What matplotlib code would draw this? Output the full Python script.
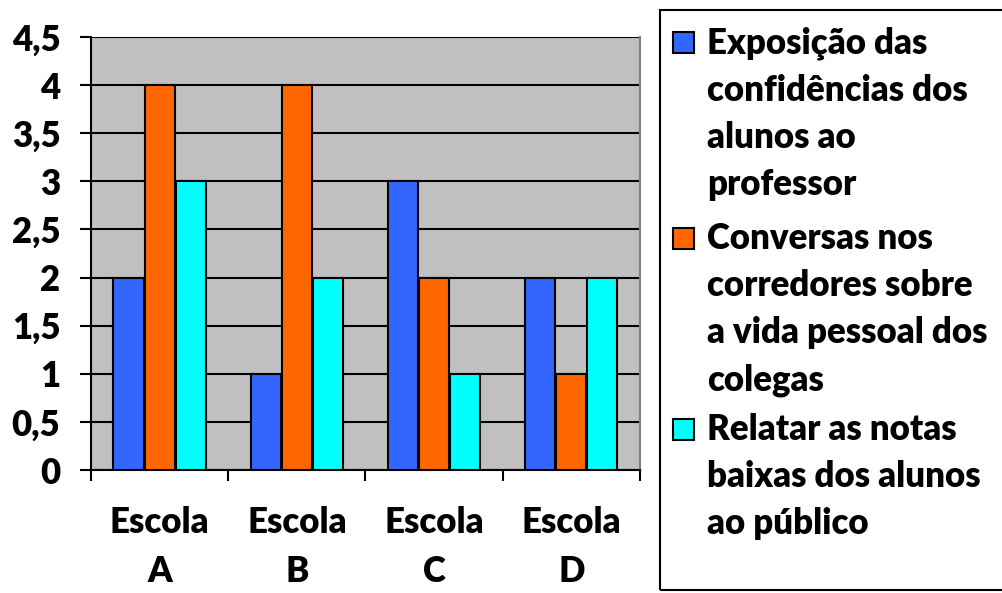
import numpy as np
import matplotlib.pyplot as plt
from matplotlib.patches import Rectangle
from matplotlib.ticker import FuncFormatter

escolas = ["Escola\nA", "Escola\nB", "Escola\nC", "Escola\nD"]
series = [
    "Exposição das\nconfidências dos\nalunos ao\nprofessor",
    "Conversas nos\ncorredores sobre\na vida pessoal dos\ncolegas",
    "Relatar as notas\nbaixas dos alunos\nao público",
]
valores = [
    [2, 1, 3, 2],
    [4, 4, 2, 1],
    [3, 2, 1, 2],
]
cores = ["#3366FF", "#FF6600", "#00FFFF"]

plt.rcParams["font.family"] = ["Lato", "DejaVu Sans"]
plt.rcParams["font.weight"] = "heavy"

fig = plt.figure(figsize=(10.02, 5.93), dpi=100)
ax = fig.add_axes([0.0908, 0.2074, 0.5479, 0.7302])
ax.set_facecolor("#C0C0C0")

x = np.arange(len(escolas))
largura = 0.22
desloc = 0.226
for i, (vals, cor) in enumerate(zip(valores, cores)):
    ax.bar(x + (i - 1) * desloc, vals, largura, color=cor,
           edgecolor="black", linewidth=1.5, zorder=3)

ax.set_xlim(-0.5, 3.5)
ax.set_ylim(0, 4.5)
ax.set_yticks(np.arange(0, 4.51, 0.5))
ax.yaxis.set_major_formatter(FuncFormatter(lambda v, p: f"{v:g}".replace(".", ",")))
ax.grid(axis="y", color="black", linewidth=1.5, zorder=1)
ax.tick_params(axis="y", length=8, width=1.5, pad=14, labelsize=25)

# separadores entre as escolas e rótulos centrados
ax.set_xticks(np.arange(-0.5, 4.0, 1.0))
ax.set_xticklabels([])
ax.tick_params(axis="x", which="major", length=8, width=1.5)
ax.set_xticks(x, minor=True)
ax.set_xticklabels(escolas, minor=True, fontsize=25, linespacing=1.6)
ax.tick_params(axis="x", which="minor", length=0, pad=26)

for lado in ["left", "bottom"]:
    ax.spines[lado].set_linewidth(1.5)
ax.spines["top"].set_visible(False)
ax.spines["right"].set_color("#808080")
ax.spines["right"].set_linewidth(1.5)

# legenda desenhada à parte, com o quadrado na primeira linha
fig.patches.append(Rectangle((660 / 1002, 3 / 593), 0.4, 580 / 593,
                             transform=fig.transFigure, fill=False,
                             edgecolor="black", linewidth=1.5))
topos = [26, 222, 413]
for nome, cor, topo in zip(series, cores, topos):
    fig.patches.append(Rectangle((673 / 1002, 1 - (topo + 27) / 593), 21 / 1002, 21 / 593,
                                 transform=fig.transFigure, facecolor=cor,
                                 edgecolor="black", linewidth=1.5))
    fig.text(707 / 1002, 1 - topo / 593, nome, fontsize=25, va="top", ha="left",
             linespacing=1.52)

fig.savefig("out.png", dpi=100)
